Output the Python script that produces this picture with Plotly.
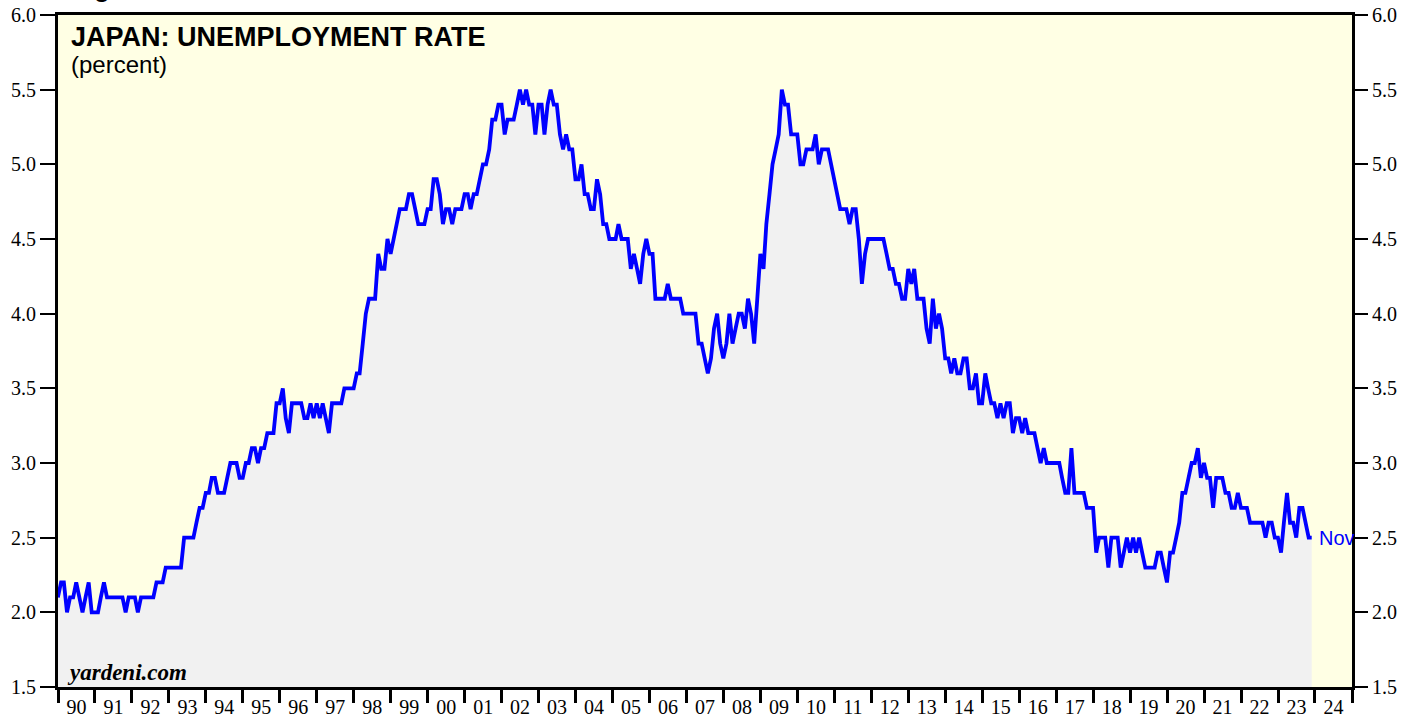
import pandas as pd
import plotly.graph_objects as go

# Monthly Japan unemployment rate (percent), month-end observations from Dec 1989 to Nov 2023
first_month_end = "1989-12-31"
rate_1990_1994 = [
    2.1, 2.2, 2.2, 2.0, 2.1, 2.1, 2.2, 2.1, 2.0, 2.1, 2.2, 2.0,
    2.0, 2.0, 2.1, 2.2, 2.1, 2.1, 2.1, 2.1, 2.1, 2.1, 2.0, 2.1,
    2.1, 2.1, 2.0, 2.1, 2.1, 2.1, 2.1, 2.1, 2.2, 2.2, 2.2, 2.3,
    2.3, 2.3, 2.3, 2.3, 2.3, 2.5, 2.5, 2.5, 2.5, 2.6, 2.7, 2.7,
    2.8, 2.8, 2.9, 2.9, 2.8, 2.8, 2.8, 2.9, 3.0, 3.0, 3.0, 2.9,
]
rate_1995_1999 = [
    2.9, 3.0, 3.0, 3.1, 3.1, 3.0, 3.1, 3.1, 3.2, 3.2, 3.2, 3.4,
    3.4, 3.5, 3.3, 3.2, 3.4, 3.4, 3.4, 3.4, 3.3, 3.3, 3.4, 3.3,
    3.4, 3.3, 3.4, 3.3, 3.2, 3.4, 3.4, 3.4, 3.4, 3.5, 3.5, 3.5,
    3.5, 3.6, 3.6, 3.8, 4.0, 4.1, 4.1, 4.1, 4.4, 4.3, 4.3, 4.5,
    4.4, 4.5, 4.6, 4.7, 4.7, 4.7, 4.8, 4.8, 4.7, 4.6, 4.6, 4.6,
]
rate_2000_2004 = [
    4.7, 4.7, 4.9, 4.9, 4.8, 4.6, 4.7, 4.7, 4.6, 4.7, 4.7, 4.7,
    4.8, 4.8, 4.7, 4.8, 4.8, 4.9, 5.0, 5.0, 5.1, 5.3, 5.3, 5.4,
    5.4, 5.2, 5.3, 5.3, 5.3, 5.4, 5.5, 5.4, 5.5, 5.4, 5.4, 5.2,
    5.4, 5.4, 5.2, 5.4, 5.5, 5.4, 5.4, 5.2, 5.1, 5.2, 5.1, 5.1,
    4.9, 4.9, 5.0, 4.8, 4.8, 4.7, 4.7, 4.9, 4.8, 4.6, 4.6, 4.5,
]
rate_2005_2009 = [
    4.5, 4.5, 4.6, 4.5, 4.5, 4.5, 4.3, 4.4, 4.3, 4.2, 4.4, 4.5,
    4.4, 4.4, 4.1, 4.1, 4.1, 4.1, 4.2, 4.1, 4.1, 4.1, 4.1, 4.0,
    4.0, 4.0, 4.0, 4.0, 3.8, 3.8, 3.7, 3.6, 3.7, 3.9, 4.0, 3.8,
    3.7, 3.8, 4.0, 3.8, 3.9, 4.0, 4.0, 3.9, 4.1, 4.0, 3.8, 4.1,
    4.4, 4.3, 4.6, 4.8, 5.0, 5.1, 5.2, 5.5, 5.4, 5.4, 5.2, 5.2,
]
rate_2010_2014 = [
    5.2, 5.0, 5.0, 5.1, 5.1, 5.1, 5.2, 5.0, 5.1, 5.1, 5.1, 5.0,
    4.9, 4.8, 4.7, 4.7, 4.7, 4.6, 4.7, 4.7, 4.5, 4.2, 4.4, 4.5,
    4.5, 4.5, 4.5, 4.5, 4.5, 4.4, 4.3, 4.3, 4.2, 4.2, 4.1, 4.1,
    4.3, 4.2, 4.3, 4.1, 4.1, 4.1, 3.9, 3.8, 4.1, 3.9, 4.0, 3.9,
    3.7, 3.7, 3.6, 3.7, 3.6, 3.6, 3.7, 3.7, 3.5, 3.5, 3.6, 3.4,
]
rate_2015_2019 = [
    3.4, 3.6, 3.5, 3.4, 3.4, 3.3, 3.4, 3.3, 3.4, 3.4, 3.2, 3.3,
    3.3, 3.2, 3.3, 3.2, 3.2, 3.2, 3.1, 3.0, 3.1, 3.0, 3.0, 3.0,
    3.0, 3.0, 2.9, 2.8, 2.8, 3.1, 2.8, 2.8, 2.8, 2.8, 2.7, 2.7,
    2.7, 2.4, 2.5, 2.5, 2.5, 2.3, 2.5, 2.5, 2.5, 2.3, 2.4, 2.5,
    2.4, 2.5, 2.4, 2.5, 2.4, 2.3, 2.3, 2.3, 2.3, 2.4, 2.4, 2.3,
]
rate_2020_2023 = [
    2.2, 2.4, 2.4, 2.5, 2.6, 2.8, 2.8, 2.9, 3.0, 3.0, 3.1, 2.9,
    3.0, 2.9, 2.9, 2.7, 2.9, 2.9, 2.9, 2.8, 2.8, 2.7, 2.7, 2.8,
    2.7, 2.7, 2.7, 2.6, 2.6, 2.6, 2.6, 2.6, 2.5, 2.6, 2.6, 2.5,
    2.5, 2.4, 2.6, 2.8, 2.6, 2.6, 2.5, 2.7, 2.7, 2.6, 2.5, 2.5,
]
rate = (rate_1990_1994 + rate_1995_1999 + rate_2000_2004 + rate_2005_2009
        + rate_2010_2014 + rate_2015_2019 + rate_2020_2023)
dates = pd.date_range(start=first_month_end, periods=len(rate), freq=pd.offsets.MonthEnd())

x_range = ["1990-01-01", "2025-01-01"]
y_range = [1.5, 6.0]
last_label = "Nov"

fig = go.Figure()
fig.add_trace(go.Scatter(
    x=dates, y=rate, mode="lines", line=dict(width=0, color="rgba(0,0,0,0)"),
    fill="tozeroy", fillcolor="#F1F1F1", hoverinfo="skip", showlegend=False,
    xaxis="x", yaxis="y"))
fig.add_trace(go.Scatter(
    x=dates, y=rate, mode="lines", line=dict(width=3.8, color="#0000FF"),
    showlegend=False, xaxis="x", yaxis="y2"))

tick_font = dict(family="Liberation Serif", size=20, color="black")
fig.update_layout(
    width=1419, height=719,
    margin=dict(l=58, r=67, t=15, b=32, autoexpand=False),
    paper_bgcolor="white", plot_bgcolor="#FFFFE4",
    xaxis=dict(type="date", range=x_range, tick0="1990-01-01", dtick="M12",
               ticklabelmode="period", tickformat="%y", ticks="outside",
               ticklen=13, tickwidth=2.5, tickcolor="black", showline=True,
               linewidth=3, linecolor="black", mirror=True, showgrid=False,
               zeroline=False, automargin=False, ticklabelstandoff=-13,
               tickfont=dict(family="Liberation Serif", size=20, color="black")),
    yaxis=dict(range=y_range, tick0=1.5, dtick=0.5, tickformat=".1f", ticks="outside",
               ticklen=15, tickwidth=1.5, tickcolor="black", showline=True,
               linewidth=3, linecolor="black", mirror=True, showgrid=False,
               zeroline=False, automargin=False, tickfont=tick_font),
    yaxis2=dict(range=y_range, tick0=1.5, dtick=0.5, tickformat=".1f", ticks="outside",
                ticklen=15, tickwidth=1.5, tickcolor="black", overlaying="y",
                side="right", showline=False, showgrid=False, zeroline=False,
                automargin=False, tickfont=tick_font),
    annotations=[
        dict(text="Figure 1.", xref="paper", yref="paper", x=0.0085, y=1.0156,
             xanchor="left", yanchor="bottom", showarrow=False,
             font=dict(family="Liberation Sans", size=26, color="black", weight="bold")),
        dict(text="<b>JAPAN: UNEMPLOYMENT RATE</b>", xref="paper", yref="paper",
             x=0.0085, y=0.967, xanchor="left", yanchor="middle", showarrow=False,
             font=dict(family="Liberation Sans", size=27, color="black")),
        dict(text="(percent)", xref="paper", yref="paper", x=0.0085, y=0.9256,
             xanchor="left", yanchor="middle", showarrow=False,
             font=dict(family="Liberation Sans", size=24, color="black")),
        dict(text="<b><i>yardeni.com</i></b>", xref="paper", yref="paper",
             x=0.0054, y=0.0223, xanchor="left", yanchor="middle", showarrow=False,
             font=dict(family="Liberation Serif", size=23, color="black")),
        dict(text=last_label, x=dates[-1], y=rate[-1], xref="x", yref="y",
             xanchor="left", yanchor="middle", xshift=5, showarrow=False,
             font=dict(family="Liberation Sans", size=20, color="#0000FF")),
    ],
)
fig.write_html("out.html", config={"displayModeBar": False},
               post_script="document.body.style.margin='0';document.body.style.overflow='hidden';")
